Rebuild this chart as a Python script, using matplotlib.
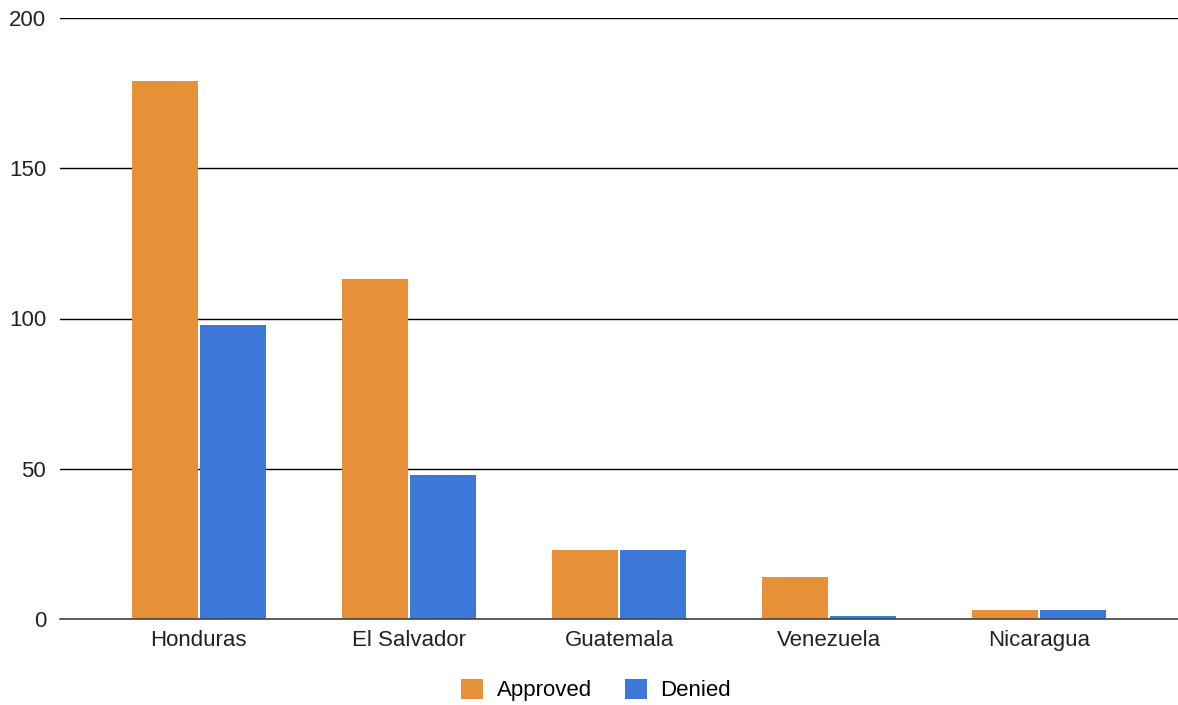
import matplotlib.pyplot as plt
import numpy as np

plt.rcParams['font.family'] = ['Liberation Sans', 'DejaVu Sans']

countries = ['Honduras', 'El Salvador', 'Guatemala', 'Venezuela', 'Nicaragua']
approved = [179, 113, 23, 14, 3]
denied = [98, 48, 23, 1, 3]
yticks = [0, 50, 100, 150, 200]

orange = '#E69138'
blue = '#3C78D8'

fig = plt.figure(figsize=(11.78, 7.05), dpi=100)
ax = fig.add_axes([60 / 1178, 1 - 619 / 705, 1118 / 1178, 601 / 705])

x = np.arange(len(countries))
w = 0.314
ax.bar(x - w / 2 - 0.005, approved, w, color=orange, label='Approved', zorder=3)
ax.bar(x + w / 2 + 0.005, denied, w, color=blue, label='Denied', zorder=3)

ax.set_xlim(-0.66, len(countries) - 1 + 0.66)
ax.set_ylim(0, 200)
ax.set_yticks(yticks)
ax.set_xticks(x)
ax.set_xticklabels(countries)
ax.tick_params(axis='both', length=0, labelsize=16, colors='#222222')
ax.tick_params(axis='y', pad=10)
ax.tick_params(axis='x', pad=8)

# horizontal gridlines only
ax.grid(axis='y', color='black', linewidth=1, zorder=0)
for s in ['top', 'right', 'left']:
    ax.spines[s].set_visible(False)
ax.spines['bottom'].set_color('#444444')
ax.spines['bottom'].set_linewidth(1.2)
ax.spines['bottom'].set_zorder(4)

fig.legend(loc='center', bbox_to_anchor=(596 / 1178, 1 - 690 / 705), ncol=2,
           frameon=False, fontsize=16, handlelength=1.0, handleheight=1.0,
           columnspacing=1.5, handletextpad=0.6)

fig.savefig('out.png', dpi=100)
